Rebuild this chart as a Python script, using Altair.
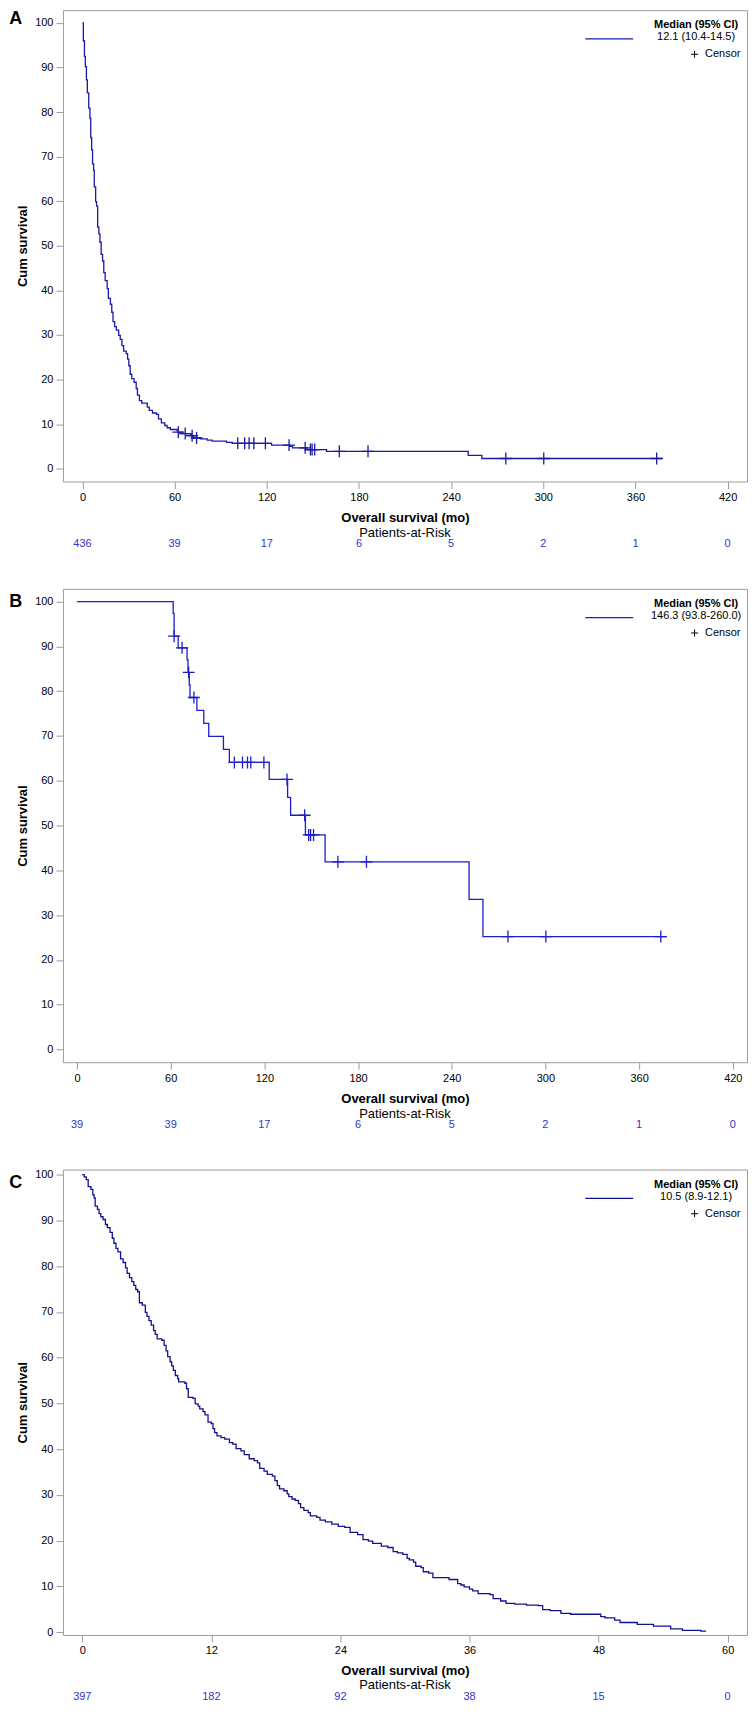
import altair as alt
import pandas as pd

FONT = "Liberation Sans"
GRAY = "#9c9c9c"
RISK_BLUE = "#3434c8"
CROSS = "M-1,0L1,0M0,-1L0,1"
W = 685

# ---------------- data ----------------
x_ticks_ab = [0, 60, 120, 180, 240, 300, 360, 420]
x_ticks_c = [0, 12, 24, 36, 48, 60]
y_ticks = [0, 10, 20, 30, 40, 50, 60, 70, 80, 90, 100]

# Panel A: all patients (time in months, cumulative survival %)
a_points = [
    (0, 100), (0.6, 96), (1.3, 92.5), (1.9, 90.2), (2.6, 87.2), (3.2, 84.3), (4.1, 80.9),
    (4.9, 78.6), (5.4, 74.3), (6.0, 71.5), (6.6, 68.4), (7.3, 66.9), (7.7, 63.2), (8.6, 59.9),
    (9.2, 58.9), (9.9, 54.2), (10.7, 52.7), (11.4, 50.8), (12.2, 48.1), (13.1, 46.6),
    (13.9, 44.0), (14.8, 42.2), (16.1, 40.4), (16.9, 38.2), (18.2, 36.9), (19.1, 35.1),
    (19.9, 33.0), (21.0, 31.9), (22.1, 31.1), (23.6, 29.9), (24.6, 29.0), (25.7, 27.6),
    (26.8, 26.4), (28.5, 25.8), (29.4, 24.6), (30.2, 23.1), (31.1, 21.2), (32.1, 20.2),
    (33.6, 19.4), (35.0, 18.0), (35.8, 16.5), (37.1, 15.3), (38.6, 14.7), (42.2, 13.8),
    (43.5, 13.1), (45.6, 12.5), (48.2, 12.2), (49.5, 11.2), (51.4, 10.3), (53.6, 9.7),
    (55.1, 9.2), (57.2, 8.8), (61.6, 8.6), (62.2, 8.2), (64.8, 7.9), (70.5, 7.7), (71.1, 7.4),
    (71.9, 7.2), (72.4, 6.9), (76.8, 6.7), (81.2, 6.4), (84.4, 6.2), (93.8, 5.9), (97.6, 5.7),
    (123.1, 5.3), (134.9, 5.0), (136.8, 4.7), (146.3, 4.3), (158.9, 3.9), (251.1, 3.0),
    (260.0, 2.3), (377.7, 2.3),
]
a_censor_time = [62.4, 66.9, 71.4, 74.3, 101.1, 105.6, 108.5, 111.6, 119.1, 134.5, 145.0,
                 148.4, 149.5, 151.2, 167.2, 185.9, 275.6, 300.3, 373.8]
a_censor_surv = [8.2, 7.9, 7.4, 6.9, 5.7, 5.7, 5.7, 5.7, 5.7, 5.3, 4.7, 4.3, 4.3, 4.3,
                 3.9, 3.9, 2.3, 2.3, 2.3]
a_risk = [436, 39, 17, 6, 5, 2, 1, 0]

# Panel B: patients alive at 60 months
b_points = [
    (0, 100), (61.6, 97.4), (62.2, 92.3), (64.8, 89.7), (70.5, 87.0), (71.1, 84.2),
    (71.9, 81.4), (72.4, 78.6), (76.8, 75.7), (81.2, 72.8), (84.4, 69.9), (93.8, 67.0),
    (97.6, 64.1), (123.1, 60.3), (134.9, 56.3), (136.8, 52.3), (146.3, 47.9), (158.9, 41.9),
    (251.1, 33.5), (260.0, 25.2), (377.7, 25.2),
]
b_censor_time = [62.2, 67.3, 71.5, 74.9, 100.8, 106.0, 109.2, 111.3, 119.7, 134.5, 145.8,
                 148.4, 149.6, 151.5, 167.1, 185.4, 276.0, 300.3, 373.9]
b_censor_surv = [92.3, 89.7, 84.2, 78.6, 64.1, 64.1, 64.1, 64.1, 64.1, 60.3, 52.3, 47.9,
                 47.9, 47.9, 41.9, 41.9, 25.2, 25.2, 25.2]
b_risk = [39, 39, 17, 6, 5, 2, 1, 0]

# Panel C
c_points = [
    (0, 100), (0.18, 99.5), (0.37, 98.9), (0.55, 97.4), (0.8, 96.8), (0.98, 95.6), (1.1, 94.9),
    (1.2, 93.1), (1.41, 92.4), (1.56, 91.5), (1.72, 90.8), (1.93, 90.2), (2.15, 89.1),
    (2.33, 88.4), (2.58, 87.4), (2.79, 86.1), (2.94, 85.0), (3.13, 83.9), (3.31, 83.1),
    (3.56, 81.6), (3.8, 80.8), (4.02, 79.6), (4.17, 78.4), (4.39, 77.5), (4.6, 76.6),
    (4.79, 75.8), (4.97, 74.9), (5.15, 74.4), (5.31, 72.0), (5.58, 71.5), (5.86, 69.9),
    (6.01, 69.0), (6.2, 68.1), (6.41, 67.1), (6.63, 65.9), (6.78, 65.1), (6.96, 64.1),
    (7.39, 63.8), (7.61, 62.7), (7.79, 61.5), (7.94, 60.2), (8.16, 59.1), (8.31, 58.2),
    (8.47, 57.2), (8.65, 56.1), (8.87, 55.4), (8.96, 54.7), (9.54, 54.4), (9.69, 53.2),
    (9.85, 51.3), (10.3, 51.1), (10.5, 49.9), (10.77, 49.4), (10.92, 48.8), (11.23, 48.2),
    (11.41, 47.5), (11.69, 45.9), (11.99, 45.6), (12.15, 44.5), (12.3, 43.6), (12.52, 42.9),
    (12.9, 42.5), (13.25, 42.2), (13.68, 41.4), (13.99, 41.1), (14.3, 40.1), (14.75, 39.6),
    (15.06, 38.8), (15.52, 37.9), (15.98, 37.5), (16.29, 37.0), (16.5, 35.8), (16.9, 35.2),
    (17.2, 34.5), (17.67, 34.1), (17.91, 33.1), (18.13, 32.0), (18.34, 31.3), (18.74, 30.9),
    (19.05, 30.2), (19.2, 29.6), (19.5, 29.1), (19.8, 28.8), (20.1, 28.1), (20.3, 27.2),
    (20.6, 26.6), (21.0, 26.1), (21.2, 25.4), (21.8, 25.1), (22.1, 24.5), (22.6, 24.1),
    (23.2, 23.6), (23.8, 23.1), (24.4, 22.9), (24.9, 21.8), (25.6, 21.3), (26.1, 20.2),
    (26.6, 19.9), (27.0, 19.4), (27.8, 18.8), (28.4, 18.5), (28.9, 17.6), (29.3, 17.3),
    (29.8, 17.0), (30.2, 16.1), (30.4, 15.8), (30.8, 15.3), (31.0, 14.4), (31.5, 14.1),
    (31.7, 13.2), (32.2, 12.9), (32.6, 11.9), (34.1, 11.5), (34.9, 10.6), (35.2, 10.3),
    (35.5, 9.9), (36.0, 9.4), (36.3, 9.0), (36.8, 8.4), (37.9, 8.2), (38.2, 7.3), (38.9, 6.8),
    (39.4, 6.3), (40.2, 6.1), (41.3, 5.9), (42.4, 5.8), (42.8, 4.9), (43.5, 4.7), (44.5, 4.1),
    (45.4, 3.9), (48.2, 3.4), (48.6, 3.1), (49.5, 2.6), (50.0, 2.1), (51.6, 1.7), (53.1, 1.3),
    (54.7, 0.7), (55.8, 0.4), (57.5, 0.2), (58.0, 0.2),
]
c_risk = [397, 182, 92, 38, 15, 0]

median_a = "12.1 (10.4-14.5)"
median_b = "146.3 (93.8-260.0)"
median_c = "10.5 (8.9-12.1)"


def txt(label, x, y, size=11, weight="normal", align="center", color="black", baseline="middle"):
    return alt.Chart(pd.DataFrame({"l": [label]})).mark_text(
        font=FONT, fontSize=size, fontWeight=weight, align=align, baseline=baseline, color=color
    ).encode(x=alt.value(x), y=alt.value(y), text="l:N")


def panel(letter, letter_y, points, ct, cs, risk_t, risk_n, xdom, xticks, ydom, H, color,
          median, title_dy, pat_dy, risk_dy):
    xs = alt.Scale(domain=xdom, nice=False, zero=False)
    ys = alt.Scale(domain=ydom, nice=False, zero=False)
    xax = alt.Axis(values=xticks, title="Overall survival (mo)", titleX=W / 2, titleY=title_dy,
                   titleAlign="center", titleBaseline="middle", titleFontSize=13,
                   titleFontWeight="bold", labelFontSize=11, tickSize=7, labelPadding=3,
                   labelFlush=False, format="d")
    yax = alt.Axis(values=y_ticks, title="Cum survival", titleX=-40, titleY=H / 2,
                   titleAngle=270, titleAlign="center", titleBaseline="middle",
                   titleFontSize=13, titleFontWeight="bold", labelFontSize=11, tickSize=7,
                   labelPadding=3, format="d")
    df = pd.DataFrame(points, columns=["t", "s"])
    layers = [
        alt.Chart(df).mark_line(interpolate="step-after", color=color, strokeWidth=1.3).encode(
            x=alt.X("t:Q", scale=xs, axis=xax), y=alt.Y("s:Q", scale=ys, axis=yax))
    ]
    if ct:
        cdf = pd.DataFrame({"t": ct, "s": cs})
        layers.append(alt.Chart(cdf).mark_point(shape=CROSS, size=144, filled=False,
                                                 strokeWidth=1.3, color=color, opacity=1)
                      .encode(x="t:Q", y="s:Q"))
    rdf = pd.DataFrame({"t": risk_t, "n": risk_n})
    layers.append(alt.Chart(rdf).mark_text(font=FONT, fontSize=11, color=RISK_BLUE,
                                            baseline="middle", align="center")
                  .encode(x="t:Q", y=alt.value(H + risk_dy), text="n:Q"))
    layers.append(txt("Patients-at-Risk", W / 2, H + pat_dy, size=13))
    layers.append(txt(letter, -53.7, letter_y, size=18, weight="bold", align="left"))
    # legend
    layers.append(txt("Median (95% CI)", W - 51, 15, weight="bold"))
    layers.append(txt(median, W - 51, 27))
    layers.append(alt.Chart(pd.DataFrame({"a": [0]})).mark_rule(color=color, strokeWidth=1.3)
                  .encode(x=alt.value(W - 162), x2=alt.value(W - 114), y=alt.value(28.8)))
    layers.append(alt.Chart(pd.DataFrame({"a": [0]})).mark_point(shape=CROSS, size=49,
                                                                  filled=False, strokeWidth=1,
                                                                  color="black", opacity=1)
                  .encode(x=alt.value(W - 52.5), y=alt.value(44.2)))
    layers.append(txt("Censor", W - 42, 44.2, align="left"))
    return alt.layer(*layers).properties(width=W, height=H)


pa = panel("A", 9, a_points, a_censor_time, a_censor_surv, x_ticks_ab, a_risk,
           [-12.7, 432.6], x_ticks_ab, [-2.86, 102.86], 472, "#1a1aa6", median_a,
           36, 51.5, 63)
pb = panel("B", 12.7, b_points, b_censor_time, b_censor_surv, x_ticks_ab, b_risk,
           [-9.0, 429.1], x_ticks_ab, [-2.86, 102.86], 474, "#1c1cd0", median_b,
           36, 51.5, 63)
pc = panel("C", 13, c_points, [], [], x_ticks_c, c_risk,
           [-1.8, 61.8], x_ticks_c, [-0.62, 101.11], 466, "#12128e", median_c,
           35.5, 50.5, 62)

chart = alt.vconcat(pa, pb, pc, spacing=107.5, bounds="flush").properties(
    padding={"left": 0, "top": 0, "right": 0, "bottom": 0}
).configure_view(
    stroke=GRAY, strokeWidth=1
).configure_axis(
    domain=False, grid=False, tickColor=GRAY, tickWidth=1, labelColor="black",
    titleColor="black", labelFont=FONT, titleFont=FONT
)

chart.save("out.html", embed_options={"renderer": "svg", "actions": False})
